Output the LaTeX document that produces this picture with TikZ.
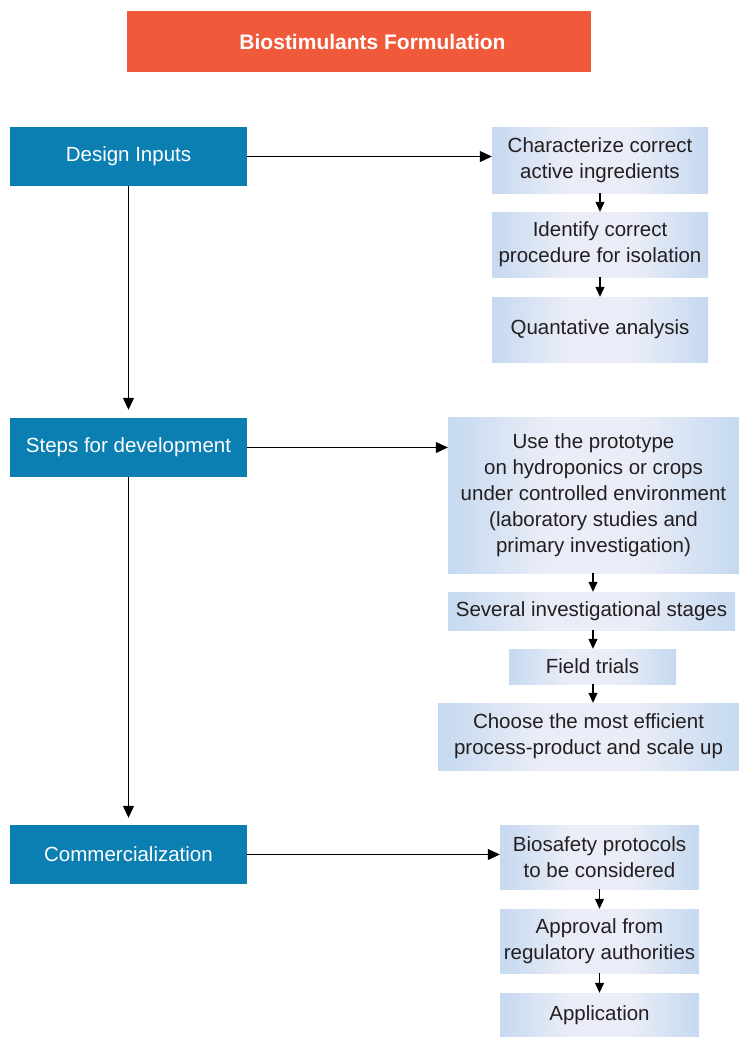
\documentclass[tikz,border=0pt]{standalone}
\usepackage{fontspec}
\setmainfont{Liberation Sans}
\usetikzlibrary{arrows.meta}

\definecolor{titleorange}{RGB}{240,90,58}
\definecolor{stagebluedark}{RGB}{11,127,178}
\definecolor{stepedge}{RGB}{197,217,240}
\definecolor{stepmid}{RGB}{234,237,247}
\definecolor{inktext}{RGB}{35,31,32}

\pgfdeclarehorizontalshading{stepglow}{100bp}{%
  color(0bp)=(stepedge); color(25bp)=(stepedge); color(42bp)=(stepmid);
  color(58bp)=(stepmid); color(75bp)=(stepedge); color(100bp)=(stepedge)}

\tikzset{
  txt/.style={font=\fontsize{20.5}{26}\selectfont, align=center, inner sep=0pt},
  titlebox/.style={txt, fill=titleorange, text=white, font=\fontsize{21}{26}\selectfont\bfseries},
  stagebox/.style={txt, fill=stagebluedark, text=white},
  stepbox/.style={txt, shading=stepglow, text=inktext},
  link/.style={line width=1.1pt, -{Triangle[length=12pt,width=11pt]}},
  minilink/.style={line width=1.1pt, -{Triangle[length=10pt,width=9pt]}}
}

\begin{document}
\begin{tikzpicture}[x=1pt,y=-1pt]
\useasboundingbox (0,0) rectangle (739,1037);

% heading (text sits a little right of the box centre)
\node[titlebox, minimum width=464pt, minimum height=61pt] (title) at (359,41.5) {\hspace*{27pt}Biostimulants Formulation};

% main stages
\node[stagebox, minimum width=237pt, minimum height=59pt] (di) at (128.5,156.5) {Design Inputs};
\node[stagebox, minimum width=237pt, minimum height=59pt] (sd) at (128.5,447.5) {Steps for development};
\node[stagebox, minimum width=237pt, minimum height=59pt] (co) at (128.5,854.5) {Commercialization};

% design inputs chain
\node[stepbox, minimum width=216pt, minimum height=66pt] (c1) at (600,160) {Characterize correct\\active ingredients};
\node[stepbox, minimum width=216pt, minimum height=65pt] (c2) at (600,244.5) {Identify correct\\procedure for isolation};
\node[stepbox, minimum width=216pt, minimum height=65pt] (c3) at (600,329.5) {Quantative analysis};

% development chain
\node[stepbox, minimum width=291pt, minimum height=156pt] (p1) at (593.5,495) {Use the prototype\\on hydroponics or crops\\under controlled environment\\(laboratory studies and\\primary investigation)};
\node[stepbox, minimum width=287pt, minimum height=38pt] (p2) at (591.5,611) {Several investigational stages};
\node[stepbox, minimum width=167pt, minimum height=35pt] (p3) at (592.5,666.5) {Field trials};
\node[stepbox, minimum width=301pt, minimum height=67pt] (p4) at (588.5,736.5) {Choose the most efficient\\process-product and scale up};

% commercialization chain
\node[stepbox, minimum width=199pt, minimum height=64pt] (b1) at (599.5,857) {Biosafety protocols\\to be considered};
\node[stepbox, minimum width=199pt, minimum height=64pt] (b2) at (599.5,941) {Approval from\\regulatory authorities};
\node[stepbox, minimum width=199pt, minimum height=44pt] (b3) at (599.5,1015) {Application};

% main spine
\draw[link, shorten >=8pt] (di.south) -- (sd.north);
\draw[link, shorten >=7pt] (sd.south) -- (co.north);

% branches
\draw[link] (di.east) -- (di.east -| c1.west);
\draw[link] (sd.east) -- (sd.east -| p1.west);
\draw[link] (co.east) -- (co.east -| b1.west);

% steps within each chain
\draw[minilink] (c1.south) -- (c2.north);
\draw[minilink] (c2.south) -- (c3.north);
\coordinate (px) at (593,0);
\draw[minilink] (p1.south -| px) -- (p2.north -| px);
\draw[minilink] (p2.south -| px) -- (p3.north -| px);
\draw[minilink] (p3.south -| px) -- (p4.north -| px);
\draw[minilink] (b1.south) -- (b2.north);
\draw[minilink] (b2.south) -- (b3.north);
\end{tikzpicture}
\end{document}
